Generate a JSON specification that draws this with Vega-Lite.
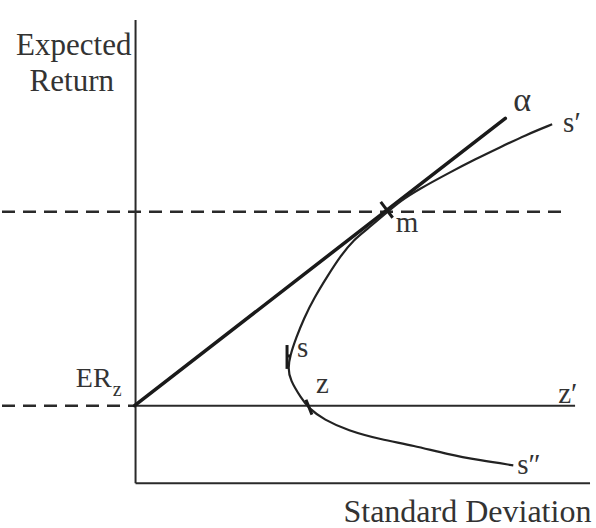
{
  "$schema": "https://vega.github.io/schema/vega-lite/v6.json",
  "width": 596,
  "height": 528,
  "autosize": {"type": "fit", "contains": "padding"},
  "padding": 0,
  "background": "white",
  "config": {"view": {"stroke": null}},
  "datasets": {
    "solid": [
      {"x": 0, "y": 0, "x2": 0, "y2": 466},
      {"x": 0, "y": 0, "x2": 456, "y2": 0},
      {"x": 0, "y": 78, "x2": 441, "y2": 78}
    ],
    "dashed": [
      {"x": -134, "y": 273, "x2": 433, "y2": 273},
      {"x": -134, "y": 78, "x2": 0, "y2": 78}
    ],
    "alpha": [
      {"x": -1, "y": 78, "x2": 371, "y2": 367}
    ],
    "curve": [
      {"o": 1, "x": 418, "y": 361},
      {"o": 2, "x": 391, "y": 350},
      {"o": 3, "x": 366, "y": 338},
      {"o": 4, "x": 341, "y": 326},
      {"o": 5, "x": 316, "y": 313},
      {"o": 6, "x": 283, "y": 295},
      {"o": 7, "x": 266, "y": 284},
      {"o": 8, "x": 253, "y": 273},
      {"o": 9, "x": 233, "y": 256},
      {"o": 10, "x": 219, "y": 245},
      {"o": 11, "x": 206, "y": 229},
      {"o": 12, "x": 193, "y": 209},
      {"o": 13, "x": 179, "y": 186},
      {"o": 14, "x": 169, "y": 166},
      {"o": 15, "x": 161, "y": 146},
      {"o": 16, "x": 155, "y": 128},
      {"o": 17, "x": 153, "y": 116},
      {"o": 18, "x": 155, "y": 104},
      {"o": 19, "x": 166, "y": 86},
      {"o": 20, "x": 174, "y": 75},
      {"o": 21, "x": 189, "y": 64},
      {"o": 22, "x": 213, "y": 53},
      {"o": 23, "x": 246, "y": 44},
      {"o": 24, "x": 279, "y": 38},
      {"o": 25, "x": 313, "y": 29},
      {"o": 26, "x": 346, "y": 23},
      {"o": 27, "x": 379, "y": 18}
    ],
    "ticks": [
      {"x": 246, "y": 283, "x2": 258, "y2": 267},
      {"x": 152, "y": 139, "x2": 152, "y2": 115},
      {"x": 152, "y": 128, "x2": 156, "y2": 128},
      {"x": 171, "y": 84, "x2": 177, "y2": 69}
    ],
    "titles": [
      {"x": -62, "y": 431, "t": "Expected"},
      {"x": -64, "y": 394, "t": "Return"}
    ],
    "xTitle": [
      {"x": 333, "y": -39, "t": "Standard Deviation"}
    ],
    "labelsLeft": [
      {"x": 429, "y": 353, "t": "s′"},
      {"x": 261, "y": 253, "t": "m"},
      {"x": 162, "y": 127, "t": "s"},
      {"x": 181, "y": 91, "t": "z"},
      {"x": 424, "y": 81, "t": "z′"},
      {"x": 383, "y": 9, "t": "s″"}
    ],
    "alphaLabel": [
      {"x": 388, "y": 374, "t": "α"}
    ],
    "erLabel": [
      {"x": -24, "y": 97, "t": "ER"}
    ],
    "erSub": [
      {"x": -23, "y": 88, "t": "z"}
    ]
  },
  "layer": [
    {
      "data": {"name": "solid"},
      "mark": {"type": "rule", "stroke": "#2a2a2a", "strokeWidth": 2},
      "encoding": {
        "x": {"field": "x", "type": "quantitative", "scale": {"domain": [-134, 462], "nice": false, "zero": false}, "axis": null},
        "y": {"field": "y", "type": "quantitative", "scale": {"domain": [-42, 486], "nice": false, "zero": false}, "axis": null},
        "x2": {"field": "x2"},
        "y2": {"field": "y2"}
      }
    },
    {
      "data": {"name": "dashed"},
      "mark": {"type": "rule", "stroke": "#2a2a2a", "strokeWidth": 2.5, "strokeDash": [13, 8]},
      "encoding": {
        "x": {"field": "x", "type": "quantitative"},
        "y": {"field": "y", "type": "quantitative"},
        "x2": {"field": "x2"},
        "y2": {"field": "y2"}
      }
    },
    {
      "data": {"name": "alpha"},
      "mark": {"type": "rule", "stroke": "#1a1a1a", "strokeWidth": 3.5, "strokeCap": "round"},
      "encoding": {
        "x": {"field": "x", "type": "quantitative"},
        "y": {"field": "y", "type": "quantitative"},
        "x2": {"field": "x2"},
        "y2": {"field": "y2"}
      }
    },
    {
      "data": {"name": "curve"},
      "mark": {"type": "line", "stroke": "#222222", "strokeWidth": 2.2, "interpolate": "basis"},
      "encoding": {
        "x": {"field": "x", "type": "quantitative"},
        "y": {"field": "y", "type": "quantitative"},
        "order": {"field": "o", "type": "quantitative"}
      }
    },
    {
      "data": {"name": "ticks"},
      "mark": {"type": "rule", "stroke": "#1a1a1a", "strokeWidth": 3},
      "encoding": {
        "x": {"field": "x", "type": "quantitative"},
        "y": {"field": "y", "type": "quantitative"},
        "x2": {"field": "x2"},
        "y2": {"field": "y2"}
      }
    },
    {
      "data": {"name": "titles"},
      "mark": {"type": "text", "font": "Liberation Serif", "fontSize": 31, "color": "#333333", "align": "center", "baseline": "alphabetic"},
      "encoding": {
        "x": {"field": "x", "type": "quantitative"},
        "y": {"field": "y", "type": "quantitative"},
        "text": {"field": "t"}
      }
    },
    {
      "data": {"name": "xTitle"},
      "mark": {"type": "text", "font": "Liberation Serif", "fontSize": 32, "color": "#333333", "align": "center", "baseline": "alphabetic"},
      "encoding": {
        "x": {"field": "x", "type": "quantitative"},
        "y": {"field": "y", "type": "quantitative"},
        "text": {"field": "t"}
      }
    },
    {
      "data": {"name": "labelsLeft"},
      "mark": {"type": "text", "font": "Liberation Serif", "fontSize": 29, "color": "#333333", "align": "left", "baseline": "alphabetic"},
      "encoding": {
        "x": {"field": "x", "type": "quantitative"},
        "y": {"field": "y", "type": "quantitative"},
        "text": {"field": "t"}
      }
    },
    {
      "data": {"name": "alphaLabel"},
      "mark": {"type": "text", "font": "Liberation Serif", "fontSize": 34, "color": "#333333", "align": "center", "baseline": "alphabetic"},
      "encoding": {
        "x": {"field": "x", "type": "quantitative"},
        "y": {"field": "y", "type": "quantitative"},
        "text": {"field": "t"}
      }
    },
    {
      "data": {"name": "erLabel"},
      "mark": {"type": "text", "font": "Liberation Serif", "fontSize": 28, "color": "#333333", "align": "right", "baseline": "alphabetic"},
      "encoding": {
        "x": {"field": "x", "type": "quantitative"},
        "y": {"field": "y", "type": "quantitative"},
        "text": {"field": "t"}
      }
    },
    {
      "data": {"name": "erSub"},
      "mark": {"type": "text", "font": "Liberation Serif", "fontSize": 20, "color": "#333333", "align": "left", "baseline": "alphabetic"},
      "encoding": {
        "x": {"field": "x", "type": "quantitative"},
        "y": {"field": "y", "type": "quantitative"},
        "text": {"field": "t"}
      }
    }
  ]
}
